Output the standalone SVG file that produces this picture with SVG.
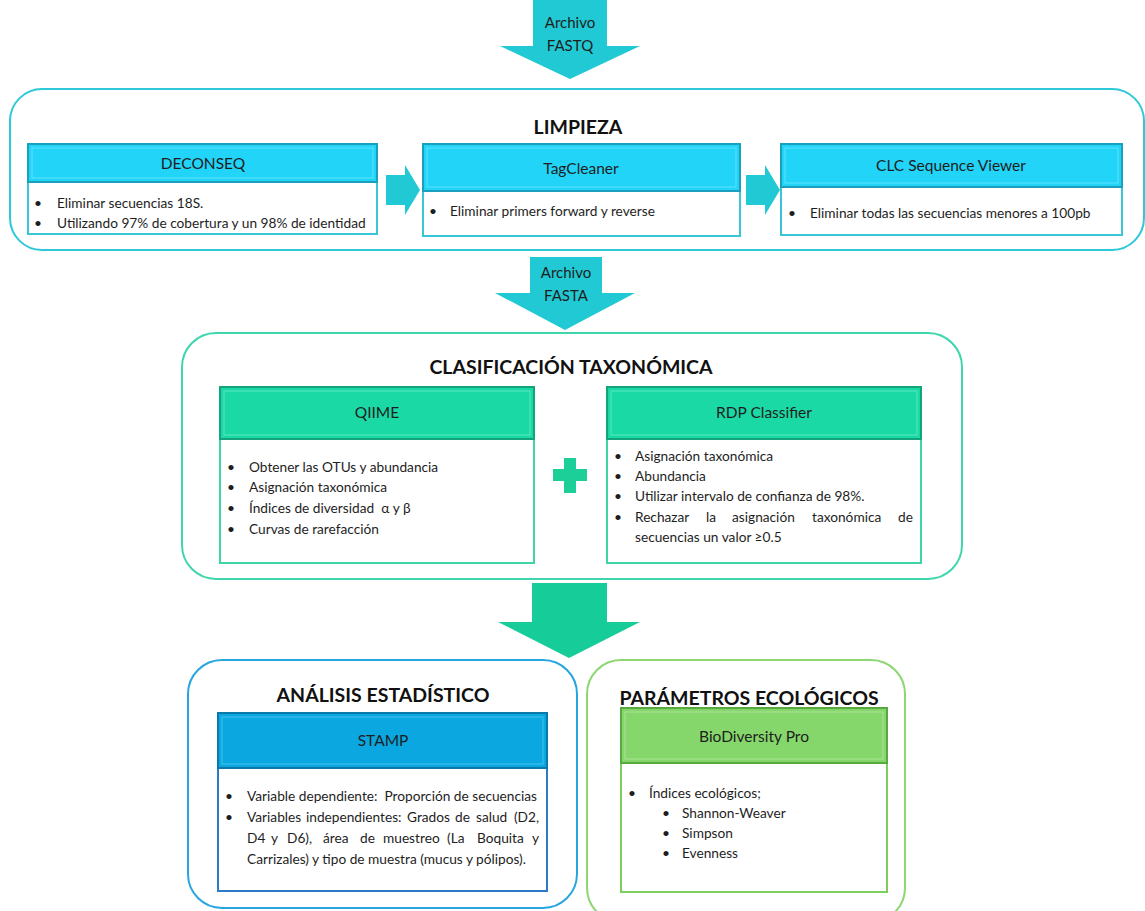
<svg xmlns="http://www.w3.org/2000/svg" width="1145" height="911" viewBox="0 0 1145 911">
<style>
text{font-family:Lato,"Open Sans","Liberation Sans",sans-serif;fill:#1e1e1e}
.t{font-size:19.5px;font-weight:bold;text-anchor:middle;fill:#111}
.h{font-size:15.5px;text-anchor:middle}
.b{font-size:13.7px}
.a{font-size:15px;text-anchor:middle}
.bodyC{fill:#fff;stroke:#38c6d6;stroke-width:2}
.bodyG{fill:#fff;stroke:#3fd3a8;stroke-width:2}
.bodyB{fill:#fff;stroke:#2c7bc8;stroke-width:2}
.bodyL{fill:#fff;stroke:#7ccf5f;stroke-width:2}
</style>
<rect width="1145" height="911" fill="#fff"/>

<g id="limpieza">
<rect x="10" y="89" width="1134" height="161" rx="32" fill="#fff" stroke="#2ec8d8" stroke-width="2"/>
<text class="t" x="578" y="134">LIMPIEZA</text>
</g>

<g id="deconseq">
<rect class="bodyC" x="28" y="182" width="349" height="52"/>
<rect x="28" y="144" width="349" height="38" fill="#22d4f8" stroke="#1a9fbc" stroke-width="2"/>
<rect x="32" y="148" width="341" height="30" fill="none" stroke="#5fe2fb" stroke-width="1"/>
<text class="h" x="203" y="169">DECONSEQ</text>
<text class="b" x="34" y="208">•</text><text class="b" x="57" y="208">Eliminar secuencias 18S.</text>
<text class="b" x="34" y="228">•</text><text class="b" x="57" y="228">Utilizando 97% de cobertura y un 98% de identidad</text>
</g>

<g id="tagcleaner">
<rect class="bodyC" x="423" y="190" width="317" height="46"/>
<rect x="423" y="144" width="317" height="47" fill="#22d4f8" stroke="#1a9fbc" stroke-width="2"/>
<rect x="427" y="148" width="309" height="39" fill="none" stroke="#5fe2fb" stroke-width="1"/>
<text class="h" x="581" y="174">TagCleaner</text>
<text class="b" x="429" y="216">•</text><text class="b" x="450" y="216">Eliminar primers forward y reverse</text>
</g>

<g id="clc">
<rect class="bodyC" x="781" y="186" width="341" height="49"/>
<rect x="781" y="144" width="341" height="43" fill="#22d4f8" stroke="#1a9fbc" stroke-width="2"/>
<rect x="785" y="148" width="333" height="35" fill="none" stroke="#5fe2fb" stroke-width="1"/>
<text class="h" x="951" y="171">CLC Sequence Viewer</text>
<text class="b" x="788" y="218">•</text><text class="b" x="810" y="218">Eliminar todas las secuencias menores a 100pb</text>
</g>

<g id="clasificacion">
<rect x="182" y="333" width="780" height="246" rx="34" fill="#fff" stroke="#3fd6ad" stroke-width="2"/>
<text class="t" x="571" y="374">CLASIFICACIÓN TAXONÓMICA</text>
</g>

<g id="qiime">
<rect class="bodyG" x="220" y="439" width="314" height="124"/>
<rect x="220" y="387" width="314" height="52" fill="#1bd9a5" stroke="#13a47b" stroke-width="2"/>
<rect x="224" y="391" width="306" height="44" fill="none" stroke="#5ae6bf" stroke-width="1"/>
<text class="h" x="377" y="418">QIIME</text>
<text class="b" x="227" y="472">•</text><text class="b" x="249" y="472">Obtener las OTUs y abundancia</text>
<text class="b" x="227" y="492">•</text><text class="b" x="249" y="492">Asignación taxonómica</text>
<text class="b" x="227" y="513">•</text><text class="b" x="249" y="513">Índices de diversidad&#160; α y β</text>
<text class="b" x="227" y="534">•</text><text class="b" x="249" y="534">Curvas de rarefacción</text>
</g>

<g id="plus">
<path d="M564 458h12v11h11v12h-11v12h-12v-12h-11v-12h11z" fill="#1ccf99"/>
</g>

<g id="rdp">
<rect class="bodyG" x="607" y="439" width="314" height="124"/>
<rect x="607" y="387" width="314" height="52" fill="#1bd9a5" stroke="#13a47b" stroke-width="2"/>
<rect x="611" y="391" width="306" height="44" fill="none" stroke="#5ae6bf" stroke-width="1"/>
<text class="h" x="764" y="418">RDP Classifier</text>
<text class="b" x="614" y="461">•</text><text class="b" x="635" y="461">Asignación taxonómica</text>
<text class="b" x="614" y="481">•</text><text class="b" x="635" y="481">Abundancia</text>
<text class="b" x="614" y="501">•</text><text class="b" x="635" y="501">Utilizar intervalo de confianza de 98%.</text>
<text class="b" x="614" y="522">•</text><text class="b" x="635" y="522">Rechazar</text><text class="b" x="706" y="522">la</text><text class="b" x="732" y="522">asignación</text><text class="b" x="812" y="522">taxonómica</text><text class="b" x="913" y="522" text-anchor="end">de</text>
<text class="b" x="635" y="542">secuencias un valor ≥0.5</text>
</g>

<g id="analisis">
<rect x="188" y="660" width="389" height="248" rx="34" fill="#fff" stroke="#27a6de" stroke-width="2"/>
<text class="t" x="383" y="702">ANÁLISIS ESTADÍSTICO</text>
</g>

<g id="stamp">
<rect class="bodyB" x="218" y="767" width="329" height="124"/>
<rect x="218" y="713" width="329" height="55" fill="#0aa7e1" stroke="#0a78a8" stroke-width="2"/>
<rect x="222" y="717" width="321" height="47" fill="none" stroke="#45c1ee" stroke-width="1"/>
<text class="h" x="383" y="746">STAMP</text>
<text class="b" x="225" y="801">•</text><text class="b" x="247" y="801">Variable dependiente:&#160; Proporción de secuencias</text>
<text class="b" x="225" y="822">•</text><text class="b" x="247" y="822">Variables</text><text class="b" x="306" y="822">independientes:</text><text class="b" x="407" y="822">Grados</text><text class="b" x="455" y="822">de</text><text class="b" x="476" y="822">salud</text><text class="b" x="539" y="822" text-anchor="end">(D2,</text>
<text class="b" x="247" y="843">D4</text><text class="b" x="271" y="843">y</text><text class="b" x="287" y="843">D6),</text><text class="b" x="323" y="843">área</text><text class="b" x="360" y="843">de</text><text class="b" x="383" y="843">muestreo</text><text class="b" x="447" y="843">(La</text><text class="b" x="477" y="843">Boquita</text><text class="b" x="539" y="843" text-anchor="end">y</text>
<text class="b" x="247" y="864">Carrizales) y tipo de muestra (mucus y pólipos).</text>
</g>

<g id="parametros">
<rect x="587" y="660" width="318" height="262" rx="34" fill="#fff" stroke="#8dd672" stroke-width="2"/>
<text class="t" x="749" y="705">PARÁMETROS ECOLÓGICOS</text>
</g>

<g id="biodiversity">
<rect class="bodyL" x="621" y="762" width="266" height="130"/>
<rect x="621" y="708" width="266" height="55" fill="#86d76b" stroke="#5aa840" stroke-width="2"/>
<rect x="625" y="712" width="258" height="47" fill="none" stroke="#aae596" stroke-width="1"/>
<text class="h" x="754" y="742">BioDiversity Pro</text>
<text class="b" x="628" y="798">•</text><text class="b" x="649" y="798">Índices ecológicos;</text>
<text class="b" x="662" y="818">•</text><text class="b" x="682" y="818">Shannon-Weaver</text>
<text class="b" x="662" y="838">•</text><text class="b" x="682" y="838">Simpson</text>
<text class="b" x="662" y="858">•</text><text class="b" x="682" y="858">Evenness</text>
</g>

<g id="connectors">
<path d="M533 0h74v46h33l-70 33l-70-33h33z" fill="#20c9d3"/>
<text class="a" x="570" y="28">Archivo</text>
<text class="a" x="570" y="51">FASTQ</text>
<path d="M386 175h19v-10l15 25l-15 25v-10h-19z" fill="#20c9d3"/>
<path d="M746 175h19v-10l15 25l-15 25v-10h-19z" fill="#20c9d3"/>
<path d="M530 257h72v36h33l-70 37l-70-37h35z" fill="#20c9d3"/>
<text class="a" x="566" y="278">Archivo</text>
<text class="a" x="566" y="301">FASTA</text>
<path d="M532 583h75v39h33l-71 36l-71-36h34z" fill="#16cc98"/>
</g>
</svg>
